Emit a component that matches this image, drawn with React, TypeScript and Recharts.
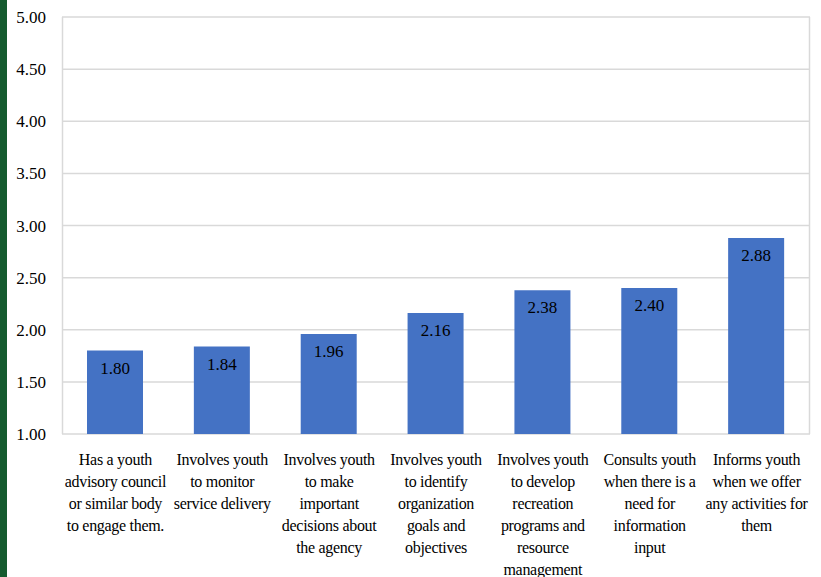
import React from "react";
import {
  BarChart,
  Bar,
  XAxis,
  YAxis,
  CartesianGrid,
  LabelList,
} from "recharts";

const categories = [
  ["Has a youth", "advisory council", "or similar body", "to engage them."],
  ["Involves youth", "to monitor", "service delivery"],
  ["Involves youth", "to make", "important", "decisions about", "the agency"],
  ["Involves youth", "to identify", "organization", "goals and", "objectives"],
  ["Involves youth", "to develop", "recreation", "programs and", "resource", "management"],
  ["Consults youth", "when there is a", "need for", "information", "input"],
  ["Informs youth", "when we offer", "any activities for", "them"],
];

const scores = [1.8, 1.84, 1.96, 2.16, 2.38, 2.4, 2.88];

const yTicks = [1, 1.5, 2, 2.5, 3, 3.5, 4, 4.5, 5];

const data = categories.map((lines, i) => ({
  name: lines.join(" "),
  score: scores[i],
}));

const font = "'Liberation Serif', Tinos, 'Times New Roman', serif";

const css = `
html body #root svg text, html body #root svg tspan, html body #root svg .recharts-text {
  font-family: ${font} !important;
}
`;

const CategoryTick = (props: any) => {
  const { x, y, index } = props;
  const lines = categories[index] || [];
  return (
    <text x={x} y={y} textAnchor="middle" fill="#000" fontFamily={font} fontSize={16} letterSpacing={-0.3}>
      {lines.map((line, i) => (
        <tspan key={i} x={x} dy={i === 0 ? 23 : 22}>
          {line}
        </tspan>
      ))}
    </text>
  );
};

export default function App() {
  return (
    <div style={{ position: "absolute", left: 0, top: 0, width: 821, height: 577, background: "#fff" }}>
      <style>{css}</style>
      <div style={{ position: "absolute", left: 0, top: 0, width: 7, height: 577, background: "#155b2f" }} />
      <BarChart
        width={821}
        height={577}
        data={data}
        margin={{ top: 17, right: 11, left: 0, bottom: 0 }}
      >
        <CartesianGrid
          stroke="#d9d9d9"
          strokeWidth={1.5}
          verticalPoints={[62.5, 809.5]}
        />
        <XAxis
          dataKey="name"
          interval={0}
          height={143}
          axisLine={false}
          tickLine={false}
          tick={<CategoryTick />}
        />
        <YAxis
          domain={[1, 5]}
          ticks={yTicks}
          width={62}
          axisLine={false}
          tickLine={false}
          tickFormatter={(v: number) => v.toFixed(2)}
          tick={{ fill: "#000", fontSize: 17, fontFamily: font }}
          tickMargin={10}
        />
        <Bar dataKey="score" fill="#4472c4" barSize={56} isAnimationActive={false}>
          <LabelList
            dataKey="score"
            position="insideTop"
            offset={11}
            formatter={(v: any) => Number(v).toFixed(2)}
            fill="#000"
            fontFamily={font}
            fontSize={17}
          />
        </Bar>
      </BarChart>
    </div>
  );
}
